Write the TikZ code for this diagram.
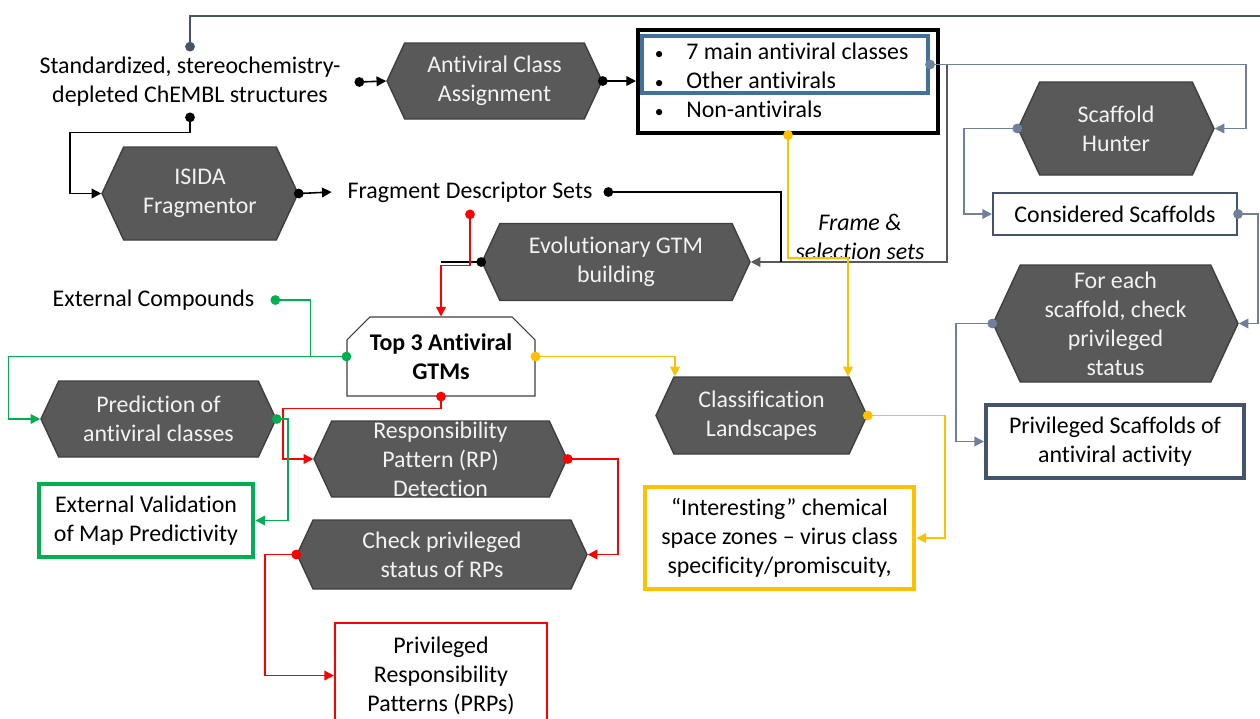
\documentclass[tikz,border=0pt]{standalone}
\usepackage{fontspec}
\setmainfont{Carlito}[Ligatures=CommonOff]
\usetikzlibrary{arrows.meta,shapes.symbols,shapes.misc,calc}
\definecolor{hexgray}{HTML}{595959}
\definecolor{hexedge}{HTML}{3F3F3F}
\definecolor{hextext}{HTML}{F2F2F2}
\definecolor{slate}{HTML}{44546A}
\definecolor{slateline}{HTML}{6F809A}
\definecolor{classblue}{HTML}{41719C}
\definecolor{okgreen}{HTML}{00B050}
\definecolor{greenline}{HTML}{2DBE68}
\definecolor{hotred}{HTML}{FF0000}
\definecolor{gold}{HTML}{FFC000}
\tikzset{
  boxsize/.style 2 args={minimum width=#1*0.02cm, minimum height=#2*0.02cm},
  hexstep/.style={signal, signal to=west and east, signal pointer angle=130,
    fill=hexgray, draw=hexedge, line width=0.8pt, text=hextext, align=center, inner sep=0pt},
  framebox/.style={rectangle, fill=white, align=center, inner sep=0pt},
  txt/.style={align=center, inner sep=0pt},
  flow/.style={line width=0.9pt, draw=#1, {Circle[length=5.5pt]}-{Triangle[length=5.5pt,width=5.5pt]}, shorten <=-2.75pt},
  tap/.style={line width=0.9pt, draw=#1, {Circle[length=5.5pt]}-, shorten <=-2.75pt},
  feed/.style={line width=0.9pt, draw=#1, -{Triangle[length=5.5pt,width=5.5pt]}}
}
\newcommand{\avbullet}{\makebox[0.7cm][l]{\hspace{2pt}\fontsize{10}{10}\selectfont•}}

\begin{document}
\begin{tikzpicture}[x=0.02cm,y=-0.02cm,font=\fontsize{13.6}{16.5}\selectfont]
  \useasboundingbox[fill=white] (0,0) rectangle (1260,718);
  % upper row
  \node[txt,boxsize={338}{70}] (src) at (190,82) {Standardized, stereochemistry-\\depleted ChEMBL structures};
  \node[hexstep,boxsize={215}{76}] (aca) at (494.5,81) {Antiviral Class\\Assignment};
  \node[framebox,draw=black,line width=2.3pt,boxsize={300}{103}] (classes) at (788,81.5) {};
  \node[framebox,fill=none,draw=classblue,line width=2.3pt,boxsize={286}{57}] (antiv) at (785,64.5) {};
  \node[txt,anchor=west] (av1) at (651,51) {\avbullet 7 main antiviral classes};
  \node[txt,anchor=west] (av2) at (651,80) {\avbullet Other antivirals};
  \node[txt,anchor=west] (av3) at (651,109) {\avbullet Non-antivirals};
  \node[hexstep,boxsize={196}{93}] (isida) at (200,193.5) {ISIDA\\Fragmentor};
  \node[txt,boxsize={276}{44}] (fds) at (470,192) {Fragment Descriptor Sets};
  \node[hexstep,boxsize={268}{77}] (evo) at (616,262) {Evolutionary GTM\\building};
  \node[txt,font=\fontsize{13.6}{16.5}\selectfont\itshape] (framelbl) at (860,237) {Frame \&\\selection sets};
  % scaffold column
  \node[hexstep,boxsize={196}{93}] (sh) at (1116,128.5) {Scaffold\\Hunter};
  \node[framebox,draw=slate,line width=1.2pt,boxsize={244}{42}] (cs) at (1115,214) {Considered Scaffolds};
  \node[hexstep,boxsize={245}{117}] (fe) at (1115.5,323.5) {For each\\scaffold, check\\privileged\\status};
  \node[framebox,draw=slate,line width=2.3pt,boxsize={258}{73}] (ps) at (1115,441.5) {Privileged Scaffolds of\\antiviral activity};
  % GTM part
  \node[txt,boxsize={243}{30}] (extc) at (153.5,300) {External Compounds};
  \node[chamfered rectangle,chamfered rectangle corners={north west,north east},
    chamfered rectangle xsep=6pt,chamfered rectangle ysep=7pt,fill=white,draw=hexedge,line width=0.6pt,
    align=center,inner sep=0pt,boxsize={188}{79},font=\fontsize{13.6}{16.5}\selectfont\bfseries] (top3) at (441,356.5) {Top 3 Antiviral\\GTMs};
  \node[hexstep,boxsize={235}{76}] (pred) at (158.5,419) {Prediction of\\antiviral classes};
  \node[hexstep,boxsize={253}{76}] (rpd) at (440.5,459) {Responsibility\\Pattern (RP)\\Detection};
  \node[framebox,draw=okgreen,line width=2.8pt,boxsize={214}{73}] (extv) at (146,520.5) {External Validation\\of Map Predictivity};
  \node[hexstep,boxsize={290}{69}] (chk) at (442,554.5) {Check privileged\\status of RPs};
  \node[framebox,draw=hotred,line width=1.2pt,boxsize={212}{105}] (prps) at (441,675.5) {Privileged\\Responsibility\\Patterns (PRPs)};
  \node[hexstep,boxsize={211}{77}] (clsl) at (761.5,415.5) {Classification\\Landscapes};
  \node[framebox,draw=gold,line width=2.8pt,boxsize={269}{102}] (intr) at (779.5,538) {“Interesting” chemical\\space zones – virus class\\specificity/promiscuity,};
  \coordinate (offpage) at (1262,16);
  \coordinate (branch) at ($(antiv.east)+(17,0)$);

  % connectors
  \draw[tap=slate] (src.north) |- (offpage);
  \draw[flow=black] (src.south) -- ++(0,15) -| ($(isida.west)+(-31,0)$) -- (isida.west);
  \draw[flow=black] (src.east) -- (aca.west);
  \draw[flow=black] (aca.east) -- (aca.east -| classes.west);
  \draw[flow=slateline] (antiv.east) -- ++(316,0) |- (sh.east);
  \draw[feed=hexgray] (branch) |- (evo.east);
  \draw[tap=black] (fds.east) -| ($(evo.east)+(30,0)$);
  \draw[flow=gold] (classes.south) -- ++(0,123) -| ($(clsl.north)+(86.5,0)$);
  \draw[flow=black] (isida.east) -- (fds.west);
  \draw[tap=black] (evo.west) -- (evo.west -| top3.north);
  \draw[flow=hotred] (fds.south) -- ++(0,51) -| (top3.north);
  \draw[tap=okgreen] (extc.east) -| ($(top3.west)+(-36,0)$);
  \draw[flow=okgreen] (top3.west) -- ++(-338,0) |- (pred.west);
  \draw[flow=gold] (top3.east) -| ($(clsl.north)+(-86.5,0)$);
  \draw[flow=hotred] (top3.south) -- ++(0,12) -| ($(rpd.west)+(-30,0)$) -- (rpd.west);
  \draw[flow=okgreen] (pred.east) -- ++(11,0) |- (extv.east);
  \draw[flow=hotred] (rpd.east) -- ++(50,0) |- (chk.east);
  \draw[flow=hotred] (chk.west) -- ++(-31,0) |- (prps.west);
  \draw[flow=gold] (clsl.east) -- ++(77,0) |- (intr.east);
  \draw[flow=slateline] (sh.west) -- ++(-53,0) |- (cs.west);
  \draw[flow=slateline] (cs.east) -- ++(20,0) |- (fe.east);
  \draw[flow=slateline] (fe.west) -- ++(-36,0) |- (ps.west);
\end{tikzpicture}
\end{document}
